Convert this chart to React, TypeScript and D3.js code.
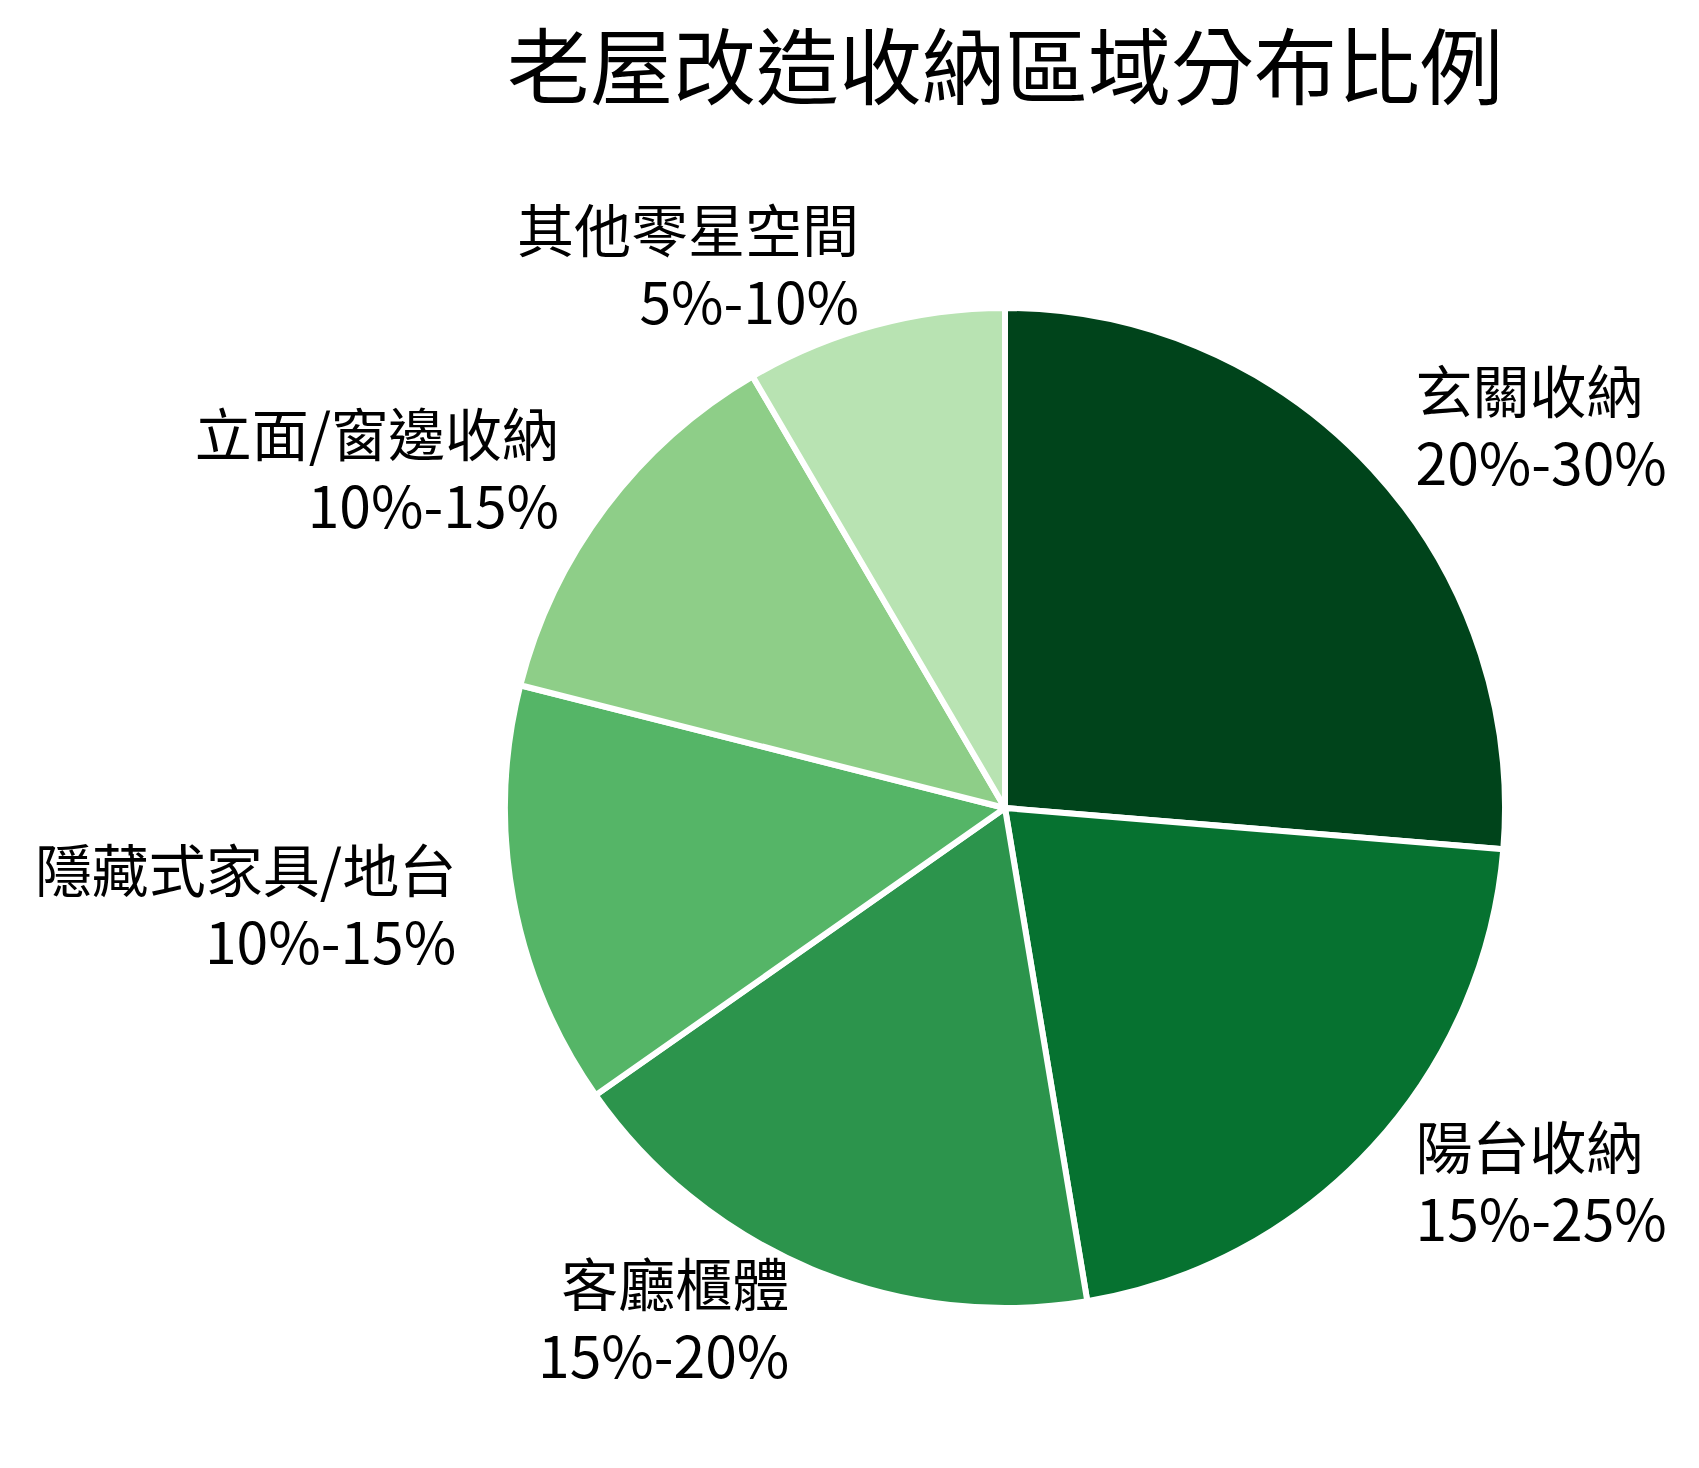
import * as d3 from "d3";
import { useEffect } from "react";

const categories = [
  "玄關收納",
  "陽台收納",
  "客廳櫃體",
  "隱藏式家具/地台",
  "立面/窗邊收納",
  "其他零星空間",
];
const ranges = ["20%-30%", "15%-25%", "15%-20%", "10%-15%", "10%-15%", "5%-10%"];
const values = [25, 20, 17, 13, 12, 8];
const colors = ["#00441b", "#067230", "#2c944c", "#55b567", "#8ece88", "#b8e3b2"];

const width = 1699;
const height = 1468;
const cx = 1005;
const cy = 808;
const radius = 500;
const labelRadius = 558;
const font = "'Noto Sans CJK TC', 'Noto Sans CJK SC', sans-serif";

export default function App() {
  useEffect(() => {
    document.body.style.margin = "0";
  }, []);

  const pie = d3
    .pie<number>()
    .sort(null)
    .value((d) => d)
    .startAngle(0)
    .endAngle(2 * Math.PI);
  const arcs = pie(values);
  const arc = d3.arc<d3.PieArcDatum<number>>().innerRadius(0).outerRadius(radius);

  return (
    <svg width={width} height={height} style={{ display: "block", background: "#fff" }}>
      <text
        x={cx}
        y={98}
        textAnchor="middle"
        fontFamily={font}
        fontSize={83}
        fill="#000"
      >
        老屋改造收納區域分布比例
      </text>
      <g transform={`translate(${cx}, ${cy})`}>
        {arcs.map((a, i) => (
          <path
            key={`slice-${i}`}
            d={arc(a) || ""}
            fill={colors[i]}
            stroke="#fff"
            strokeWidth={6}
            strokeLinejoin="round"
          />
        ))}
        {arcs.map((a, i) => {
          const mid = (a.startAngle + a.endAngle) / 2;
          const x = labelRadius * Math.sin(mid);
          const y = -labelRadius * Math.cos(mid);
          const anchor = x > 0 ? "start" : "end";
          return (
            <text
              key={`label-${i}`}
              textAnchor={anchor}
              fontFamily={font}
              fontSize={57}
              fill="#000"
            >
              <tspan x={x} y={y - 17}>
                {categories[i]}
              </tspan>
              <tspan x={x} y={y + 55}>
                {ranges[i]}
              </tspan>
            </text>
          );
        })}
      </g>
    </svg>
  );
}
